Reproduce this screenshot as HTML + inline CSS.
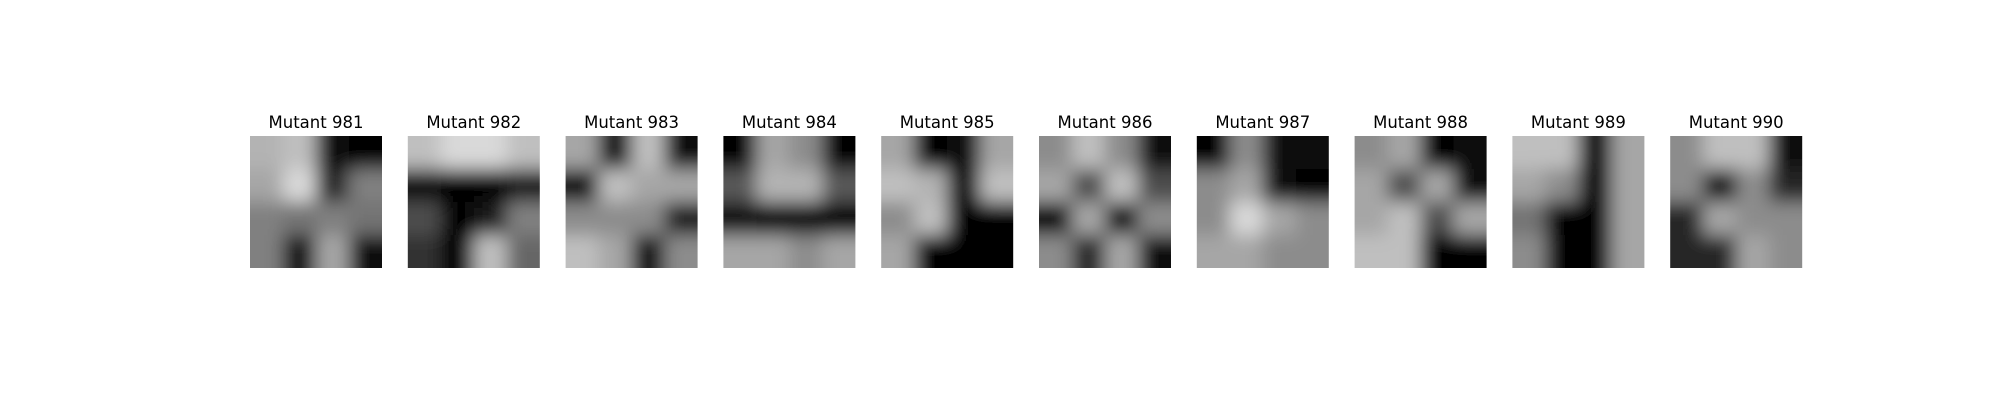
<!DOCTYPE html>
<html><head><meta charset="utf-8"><style>
html,body{margin:0;padding:0;background:#fff;width:2000px;height:400px;overflow:hidden}
svg{display:block}
text{font-family:"DejaVu Sans","Liberation Sans",sans-serif}
</style></head><body>
<svg id="fig" width="2000" height="400">
<defs><filter id="bl" filterUnits="userSpaceOnUse" x="0" y="0" width="2000" height="400"><feGaussianBlur stdDeviation="9"/></filter></defs>
</svg>
<script>
const titles=["Mutant 981","Mutant 982","Mutant 983","Mutant 984","Mutant 985","Mutant 986","Mutant 987","Mutant 988","Mutant 989","Mutant 990"];
const grid981=[[0.7,0.75,0.05,0.0],[0.65,0.85,0.15,0.5],[0.5,0.45,0.5,0.45],[0.5,0.05,0.65,0.05]];
const grid982=[[0.75,0.85,0.85,0.75],[0.05,0,0,0.1],[0.3,0,0.1,0.5],[0.2,0,0.75,0.4]];
const grid983=[[0.65,0.05,0.75,0.05],[0.05,0.75,0.65,0.65],[0.55,0.55,0.55,0.1],[0.75,0.65,0.05,0.55]];
const grid984=[[0,0.65,0.55,0],[0.35,0.7,0.7,0.35],[0.05,0,0,0],[0.65,0.65,0.55,0.65]];
const grid985=[[0.65,0,0.05,0.65],[0.75,0.7,0.05,0.75],[0.55,0.75,0,0],[0.65,0,0,0]];
const grid986=[[0.55,0.75,0.55,0.05],[0.65,0.3,0.75,0.3],[0,0.65,0.05,0.55],[0.55,0.15,0.65,0.05]];
const grid987=[[0,0.55,0.05,0.05],[0.55,0.65,0.05,0],[0.55,0.85,0.65,0.55],[0.65,0.65,0.55,0.55]];
const grid988=[[0.55,0.65,0,0.05],[0.65,0.3,0.65,0.05],[0.65,0.75,0.3,0.65],[0.75,0.75,0,0]];
const grid989=[[0.75,0.75,0,0.65],[0.65,0.55,0,0.65],[0.45,0,0,0.65],[0.55,0,0,0.65]];
const grid990=[[0.55,0.75,0.75,0.05],[0.55,0.05,0.55,0.15],[0.15,0.65,0.55,0.55],[0.15,0.15,0.65,0.55]];
const grids=[grid981,grid982,grid983,grid984,grid985,grid986,grid987,grid988,grid989,grid990];
const NS="http://www.w3.org/2000/svg";
const svg=document.getElementById('fig');
const x0=250,pitch=157.8,size=132,y0=136,ext=30;
grids.forEach((g,i)=>{
  const px=x0+i*pitch;
  const grp=document.createElementNS(NS,'g');
  
  
  const cp=document.createElementNS(NS,'clipPath');cp.id='c'+i;
  const cr=document.createElementNS(NS,'rect');
  cr.setAttribute('x',px);cr.setAttribute('y',y0);cr.setAttribute('width',size);cr.setAttribute('height',size);
  cp.appendChild(cr);grp.appendChild(cp);
  const img=document.createElementNS(NS,'g');
  img.setAttribute('clip-path','url(#c'+i+')');
  
  
  const inner=document.createElementNS(NS,'g');inner.setAttribute('filter','url(#bl)');
  const n=g.length,c=size/n;
  g.forEach((row,r)=>row.forEach((v,k)=>{
    const rc=document.createElementNS(NS,'rect');
    let x=px+k*c,y=y0+r*c,w=c+0.5,h=c+0.5;
    if(k===0){x-=ext;w+=ext;} if(k===n-1){w+=ext;}
    if(r===0){y-=ext;h+=ext;} if(r===n-1){h+=ext;}
    rc.setAttribute('x',x);rc.setAttribute('y',y);
    rc.setAttribute('width',w);rc.setAttribute('height',h);
    const l=Math.round(v*255);rc.setAttribute('fill','rgb('+l+','+l+','+l+')');
    inner.appendChild(rc);
  }));
  img.appendChild(inner);grp.appendChild(img);
  const t=document.createElementNS(NS,'text');
  
  
  t.setAttribute('x',px+size/2);t.setAttribute('y',128);
  t.setAttribute('text-anchor','middle');t.setAttribute('font-size','16.5');
  t.textContent=titles[i];grp.appendChild(t);
  svg.appendChild(grp);
});
</script>
</body></html>
